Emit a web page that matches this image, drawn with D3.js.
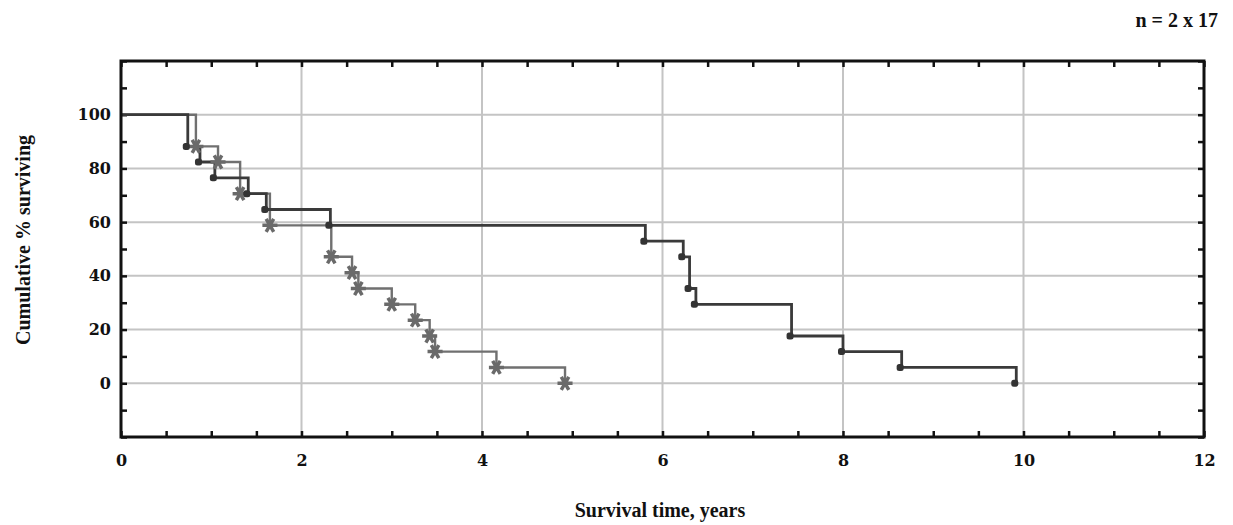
<!DOCTYPE html>
<html>
<head>
<meta charset="utf-8">
<script src="https://cdn.jsdelivr.net/npm/d3@7"></script>
<style>
body{margin:0;background:#fff}
svg{display:block}
.tick text{font-family:"DejaVu Serif",serif;font-weight:bold;font-size:16px;fill:#111}
.ttl{font-family:"Liberation Serif","Times New Roman",serif;font-weight:bold;font-size:20px;fill:#111}
</style>
</head>
<body>
<div id="chart"></div>
<script>
'use strict'
// group 1 (dark line, dot markers)
let timesA=[0,0.74,0.875,1.04,1.41,1.61,2.32,5.81,6.23,6.30,6.37,7.43,8.0,8.65,9.92]
let survA=[100,88.2,82.4,76.5,70.6,64.7,58.8,52.9,47.1,35.3,29.4,17.6,11.8,5.9,0]
// group 2 (grey line, star markers)
let timesB=[0,0.83,1.075,1.32,1.65,2.33,2.56,2.63,3.0,3.26,3.42,3.48,4.16,4.92]
let survB=[100,88.2,82.4,70.6,58.8,47.1,41.2,35.3,29.4,23.5,17.6,11.8,5.9,0]
let xTicks=[0,2,4,6,8,10,12]
let yTicks=[0,20,40,60,80,100]
let note="n = 2 x 17"
let xTitle="Survival time, years"
let yTitle="Cumulative % surviving"

let width=1233,height=525
let pLeft=121,pRight=1204,pTop=61,pBottom=437

let svg=d3.select("#chart").append("svg").attr("width",width).attr("height",height)
let x=d3.scaleLinear().domain([0,12]).range([pLeft,pRight])
let y=d3.scaleLinear().domain([-20,120]).range([pBottom,pTop])

// grid
svg.append("g").selectAll("line").data(xTicks.filter(d=>d>0&&d<12)).enter().append("line")
  .attr("x1",d=>x(d)).attr("x2",d=>x(d)).attr("y1",pTop).attr("y2",pBottom)
  .attr("stroke","#c4c4c4").attr("stroke-width",2)
svg.append("g").selectAll("line").data(yTicks).enter().append("line")
  .attr("y1",d=>y(d)).attr("y2",d=>y(d)).attr("x1",pLeft).attr("x2",pRight)
  .attr("stroke","#c4c4c4").attr("stroke-width",2)

// axes with inward minor ticks
let minorX=d3.range(0,12.01,0.5)
let minorY=d3.range(-20,120.01,10)
let fmtX=d=>xTicks.indexOf(d)>=0?d:""
let fmtY=d=>yTicks.indexOf(d)>=0?d:""
let gx=svg.append("g").attr("transform","translate(0,"+pBottom+")")
  .call(d3.axisBottom(x).tickValues(minorX).tickSize(-6).tickSizeOuter(0).tickPadding(18).tickFormat(fmtX))
let gxt=svg.append("g").attr("transform","translate(0,"+pTop+")")
  .call(d3.axisTop(x).tickValues(minorX).tickSize(-6).tickSizeOuter(0).tickFormat(""))
let gy=svg.append("g").attr("transform","translate("+pLeft+",0)")
  .call(d3.axisLeft(y).tickValues(minorY).tickSize(-6).tickSizeOuter(0).tickPadding(10).tickFormat(fmtY))
let gyr=svg.append("g").attr("transform","translate("+pRight+",0)")
  .call(d3.axisRight(y).tickValues(minorY).tickSize(-6).tickSizeOuter(0).tickFormat(""))
;[gx,gxt,gy,gyr].forEach(g=>{g.select(".domain").remove()
  g.selectAll(".tick line").attr("stroke","#111").attr("stroke-width",2.5)})

// survival curves
let line=d3.line().curve(d3.curveStepAfter).x(d=>x(d[0])).y(d=>y(d[1]))
let ptsA=timesA.map((t,i)=>[t,survA[i]])
let ptsB=timesB.map((t,i)=>[t,survB[i]])
svg.append("path").datum(ptsB).attr("d",line).attr("fill","none").attr("stroke","#707070").attr("stroke-width",2.4)
svg.append("path").datum(ptsA).attr("d",line).attr("fill","none").attr("stroke","#3a3a3a").attr("stroke-width",2.8)

let star=d3.symbol().type(d3.symbolAsterisk).size(160)
svg.append("g").selectAll("path").data(ptsB.slice(1)).enter().append("path")
  .attr("d",star).attr("transform",d=>"translate("+x(d[0])+","+y(d[1])+") rotate(90)")
  .attr("fill","none").attr("stroke","#6a6a6a").attr("stroke-width",3.5)
svg.append("g").selectAll("rect").data(ptsA.slice(1)).enter().append("rect")
  .attr("x",d=>x(d[0])-5).attr("y",d=>y(d[1])-3.5).attr("width",7).attr("height",7).attr("rx",2.5)
  .attr("fill","#333")

// frame
svg.append("rect").attr("x",pLeft).attr("y",pTop).attr("width",pRight-pLeft).attr("height",pBottom-pTop)
  .attr("fill","none").attr("stroke","#111").attr("stroke-width",3)

// titles
svg.append("text").attr("class","ttl").attr("x",660).attr("y",517).attr("text-anchor","middle").text(xTitle)
svg.append("text").attr("class","ttl").attr("text-anchor","middle")
  .attr("transform","translate(30,240)rotate(-90)").text(yTitle)
svg.append("text").attr("class","ttl").attr("x",1218).attr("y",27).attr("text-anchor","end").attr("font-size",18).text(note)
</script>
</body>
</html>
